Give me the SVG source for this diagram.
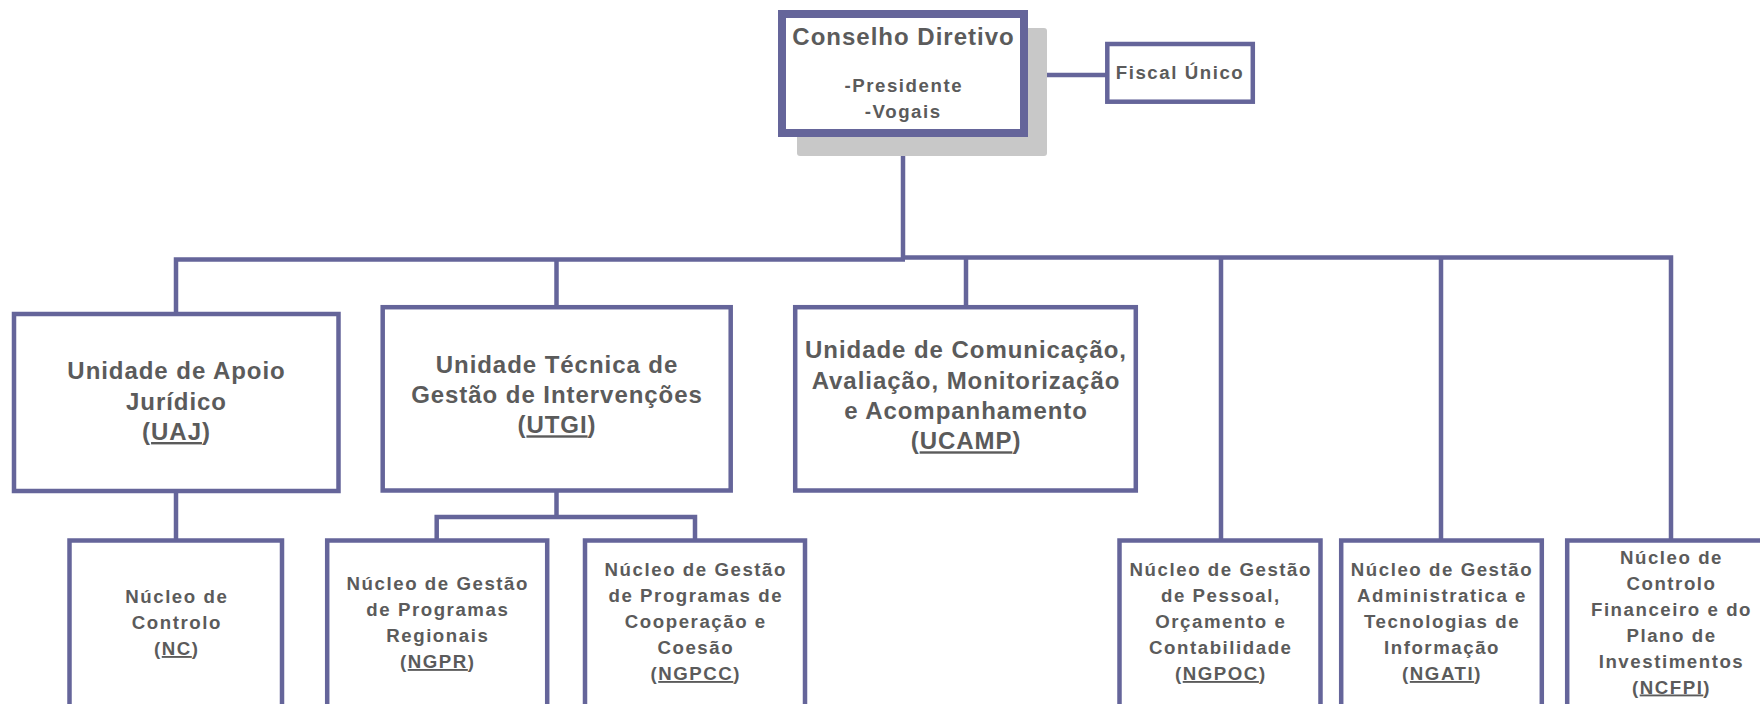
<svg xmlns="http://www.w3.org/2000/svg" width="1760" height="704" viewBox="0 0 1760 704">
<style>
.box{fill:#ffffff;stroke:#65659a;stroke-width:4.5}
.conn{fill:none;stroke:#65659a;stroke-width:4.5;stroke-linejoin:miter}
.t{font-family:"Liberation Sans",Arial,sans-serif;font-weight:bold;fill:#5b5b5b;text-anchor:middle}
.big{font-size:24px;letter-spacing:0.95px}
.sm{font-size:18.67px;letter-spacing:1.55px}
.u{text-decoration:underline}
</style>
<rect width="1760" height="704" fill="#ffffff"/>
<g id="connectors">
  <path class="conn" d="M903 137 V259"/>
  <path class="conn" d="M176 312 V259.5 H905"/>
  <path class="conn" d="M556.5 306 V259.5"/>
  <path class="conn" d="M903 257.5 H1671 V539"/>
  <path class="conn" d="M966 257.5 V306"/>
  <path class="conn" d="M1221 257.5 V539"/>
  <path class="conn" d="M1441 257.5 V539"/>
  <path class="conn" d="M176 492 V539"/>
  <path class="conn" d="M556.5 492 V517"/>
  <path class="conn" d="M436.7 539 V517 H695 V539"/>
  <path class="conn" d="M1028 75 H1106"/>
</g>
<g id="conselho">
  <rect x="797" y="28" width="250" height="128" rx="3" fill="#c8c8c8"/>
  <rect x="782" y="14" width="242" height="119" fill="#ffffff" stroke="#65659a" stroke-width="8"/>
  <text class="t" x="903.5" y="45" font-size="24" letter-spacing="1">Conselho Diretivo</text>
  <text class="t sm" x="903.8" y="92">-Presidente</text>
  <text class="t sm" x="903.3" y="117.5">-Vogais</text>
</g>
<g id="fiscal">
  <rect class="box" x="1107.3" y="44" width="145.5" height="57.7"/>
  <text class="t sm" x="1180" y="79">Fiscal Único</text>
</g>
<g id="uaj">
  <rect class="box" x="14" y="314" width="324.5" height="177"/>
  <text class="t big" x="176.5" y="379">Unidade de Apoio</text>
  <text class="t big" x="176.5" y="409.5">Jurídico</text>
  <text class="t big" x="176.5" y="440">(<tspan class="u">UAJ</tspan>)</text>
</g>
<g id="utgi">
  <rect class="box" x="382.7" y="307.2" width="348" height="183.3"/>
  <text class="t big" x="557" y="372.7">Unidade Técnica de</text>
  <text class="t big" x="557" y="403">Gestão de Intervenções</text>
  <text class="t big" x="557" y="433.3">(<tspan class="u">UTGI</tspan>)</text>
</g>
<g id="ucamp">
  <rect class="box" x="795.2" y="307.2" width="340.6" height="183.3"/>
  <text class="t big" x="966" y="358.3">Unidade de Comunicação,</text>
  <text class="t big" x="966" y="388.7">Avaliação, Monitorização</text>
  <text class="t big" x="966" y="419">e Acompanhamento</text>
  <text class="t big" x="966" y="449.3">(<tspan class="u">UCAMP</tspan>)</text>
</g>
<g id="nc">
  <rect class="box" x="69.5" y="540.5" width="212.5" height="200"/>
  <text class="t sm" x="176.8" y="603">Núcleo de</text>
  <text class="t sm" x="176.8" y="629">Controlo</text>
  <text class="t sm" x="176.8" y="655">(<tspan class="u">NC</tspan>)</text>
</g>
<g id="ngpr">
  <rect class="box" x="327.2" y="540.5" width="220" height="200"/>
  <text class="t sm" x="437.8" y="590">Núcleo de Gestão</text>
  <text class="t sm" x="437.8" y="616">de Programas</text>
  <text class="t sm" x="437.8" y="642">Regionais</text>
  <text class="t sm" x="437.8" y="668">(<tspan class="u">NGPR</tspan>)</text>
</g>
<g id="ngpcc">
  <rect class="box" x="585" y="540.5" width="220" height="200"/>
  <text class="t sm" x="695.8" y="576">Núcleo de Gestão</text>
  <text class="t sm" x="695.8" y="602">de Programas de</text>
  <text class="t sm" x="695.8" y="628">Cooperação e</text>
  <text class="t sm" x="695.8" y="654">Coesão</text>
  <text class="t sm" x="695.8" y="680">(<tspan class="u">NGPCC</tspan>)</text>
</g>
<g id="ngpoc">
  <rect class="box" x="1119.5" y="540.5" width="201" height="200"/>
  <text class="t sm" x="1220.8" y="576">Núcleo de Gestão</text>
  <text class="t sm" x="1220.8" y="602">de Pessoal,</text>
  <text class="t sm" x="1220.8" y="628">Orçamento e</text>
  <text class="t sm" x="1220.8" y="654">Contabilidade</text>
  <text class="t sm" x="1220.8" y="680">(<tspan class="u">NGPOC</tspan>)</text>
</g>
<g id="ngati">
  <rect class="box" x="1341.2" y="540.5" width="200.6" height="200"/>
  <text class="t sm" x="1442" y="576">Núcleo de Gestão</text>
  <text class="t sm" x="1442" y="602">Administratica e</text>
  <text class="t sm" x="1442" y="628">Tecnologias de</text>
  <text class="t sm" x="1442" y="654">Informação</text>
  <text class="t sm" x="1442" y="680">(<tspan class="u">NGATI</tspan>)</text>
</g>
<g id="ncfpi">
  <rect class="box" x="1567.2" y="540.5" width="207" height="200"/>
  <text class="t sm" x="1671.5" y="563.5">Núcleo de</text>
  <text class="t sm" x="1671.5" y="589.5">Controlo</text>
  <text class="t sm" x="1671.5" y="615.5">Financeiro e do</text>
  <text class="t sm" x="1671.5" y="641.5">Plano de</text>
  <text class="t sm" x="1671.5" y="667.5">Investimentos</text>
  <text class="t sm" x="1671.5" y="693.5">(<tspan class="u">NCFPI</tspan>)</text>
</g>
</svg>
